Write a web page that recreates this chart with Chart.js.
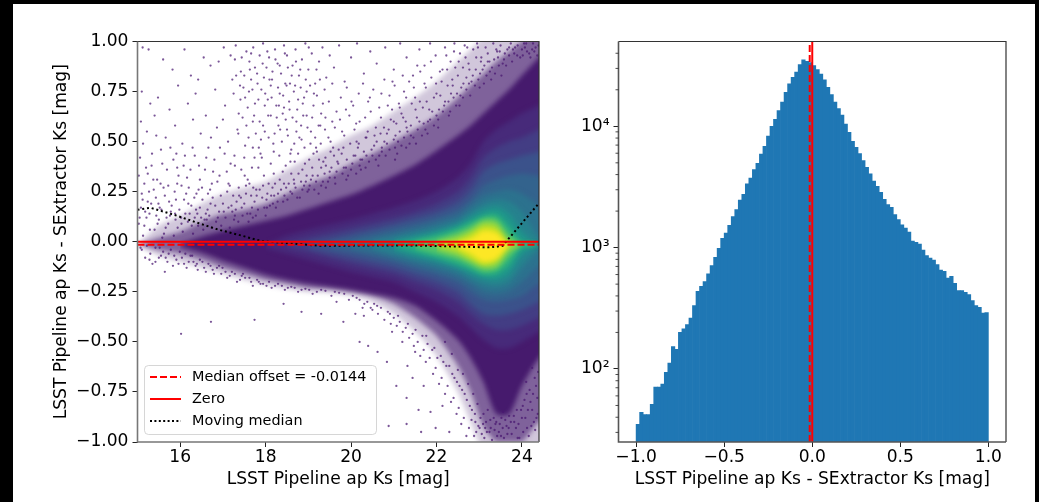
<!DOCTYPE html>
<html>
<head>
<meta charset="utf-8">
<script src="https://cdn.jsdelivr.net/npm/chart.js@4"></script>
<style>
html, body { margin: 0; padding: 0; background: #000; width: 1039px; height: 502px; overflow: hidden; }
#paper { position: absolute; left: 13px; top: 4px; width: 1022px; height: 498px; background: #fff; }
canvas { position: absolute; top: 0; }
#left { left: 0; }
#right { left: 570px; }
</style>
</head>
<body>
<div id="paper"></div>
<canvas id="left" width="570" height="502"></canvas>
<canvas id="right" width="469" height="502"></canvas>
<script>
var textFont = "'DejaVu Sans'";
var xTitle = "LSST Pipeline ap Ks [mag]";
var yTitle = "LSST Pipeline ap Ks - SExtractor Ks [mag]";
var legendLabels = ["Median offset = -0.0144", "Zero", "Moving median"];

// left panel ticks
var magTicks = [16, 18, 20, 22, 24];
var diffTicks = [-1, -0.75, -0.5, -0.25, 0, 0.25, 0.5, 0.75, 1];

// magnitude columns the density contours were read at, last one sits past the axis end
var magCols = [15, 15.5, 16, 16.5, 17, 17.5, 18, 18.5, 19, 19.5, 20, 20.5, 21, 21.5, 22, 22.5, 22.8, 23.1, 23.4, 23.7, 24, 24.4, 24.8];

// contours, upper and lower edge, columns count from the right end
var outerUp = [-0.015, 0.08, 0.13, 0.19, 0.24, 0.27, 0.3, 0.36, 0.42, 0.47, 0.53, 0.58, 0.65, 0.72, 0.8, 0.9, 0.96, 1.02, 1.05, 1.1, 1.1, 1.1, 1.1];
var outerLo = [-0.015, -0.07, -0.1, -0.13, -0.16, -0.19, -0.215, -0.235, -0.25, -0.255, -0.27, -0.3, -0.36, -0.45, -0.57, -0.75, -0.9, -1.05, -1.1, -1.1, -1.1, -1.1, -1.1];
var hazeUp = [-0.015, 0.02, 0.05, 0.1, 0.14, 0.16, 0.19, 0.24, 0.29, 0.33, 0.39, 0.44, 0.5, 0.56, 0.63, 0.72, 0.78, 0.84, 0.9, 0.95, 1, 1.05, 1.1];
var hazeLo = [-0.015, -0.04, -0.06, -0.09, -0.13, -0.16, -0.19, -0.21, -0.23, -0.235, -0.25, -0.27, -0.31, -0.38, -0.47, -0.62, -0.75, -0.92, -1, -1, -1, -0.9, -0.85];
var solidUp = [-0.01, 0.025, 0.055, 0.08, 0.105, 0.13, 0.165, 0.2, 0.235, 0.28, 0.33, 0.385, 0.455, 0.53, 0.58, 0.64, 0.7, 0.76, 0.83, 0.92, 1];
var solidLo = [-0.025, -0.055, -0.095, -0.13, -0.165, -0.19, -0.21, -0.225, -0.24, -0.26, -0.28, -0.32, -0.395, -0.49, -0.58, -0.7, -0.86, -0.86, -0.72, -0.58, -0.5];
var c1Up = [-0.015, 0.03, 0.06, 0.085, 0.11, 0.14, 0.17, 0.205, 0.25, 0.32, 0.39, 0.5, 0.56, 0.6, 0.64, 0.68, 0.72];
var c1Lo = [-0.03, -0.06, -0.09, -0.12, -0.15, -0.175, -0.2, -0.25, -0.3, -0.37, -0.43, -0.49, -0.53, -0.53, -0.5, -0.45, -0.4];
var c2Up = [-0.005, 0.02, 0.045, 0.07, 0.095, 0.12, 0.15, 0.19, 0.25, 0.32, 0.42, 0.47, 0.5, 0.52, 0.56, 0.6];
var c2Lo = [-0.025, -0.05, -0.08, -0.11, -0.135, -0.16, -0.2, -0.24, -0.3, -0.36, -0.41, -0.44, -0.44, -0.42, -0.38, -0.34];
var c3Up = [-0.005, 0.015, 0.04, 0.065, 0.09, 0.12, 0.15, 0.2, 0.26, 0.35, 0.39, 0.41, 0.43, 0.45, 0.47];
var c3Lo = [-0.03, -0.055, -0.08, -0.105, -0.13, -0.165, -0.2, -0.25, -0.31, -0.36, -0.37, -0.36, -0.34, -0.3, -0.26];
var c4Up = [-0.005, 0.015, 0.04, 0.065, 0.09, 0.12, 0.16, 0.21, 0.28, 0.31, 0.33, 0.34, 0.33, 0.32];
var c4Lo = [-0.03, -0.05, -0.075, -0.1, -0.135, -0.165, -0.205, -0.25, -0.29, -0.3, -0.29, -0.27, -0.21, -0.18];
var c5Up = [-0.005, 0.015, 0.04, 0.065, 0.095, 0.13, 0.18, 0.23, 0.25, 0.26, 0.24, 0.18, 0.1];
var c5Lo = [-0.03, -0.05, -0.08, -0.11, -0.14, -0.175, -0.21, -0.25, -0.26, -0.245, -0.2, -0.12, -0.08];
var c6Up = [0, 0.02, 0.045, 0.07, 0.105, 0.15, 0.19, 0.21, 0.2, 0.15, 0.02, -0.015];
var c6Lo = [-0.03, -0.06, -0.09, -0.115, -0.15, -0.185, -0.215, -0.225, -0.205, -0.13, -0.04, -0.015];
var c7Up = [0.005, 0.025, 0.05, 0.085, 0.125, 0.16, 0.175, 0.14, 0.05, -0.015, -0.015];
var c7Lo = [-0.04, -0.07, -0.095, -0.13, -0.16, -0.185, -0.195, -0.165, -0.07, -0.015, -0.015];
var c8Up = [-0.015, 0.01, 0.035, 0.07, 0.1, 0.13, 0.14, 0.08, 0, -0.015, -0.015];
var c8Lo = [-0.018, -0.05, -0.08, -0.115, -0.14, -0.165, -0.165, -0.12, -0.03, -0.015, -0.015];
var c9Up = [-0.005, 0.015, 0.05, 0.08, 0.115, 0.115, 0.04, -0.015, -0.015, -0.015];
var c9Lo = [-0.03, -0.06, -0.09, -0.12, -0.15, -0.14, -0.08, -0.015, -0.015, -0.015];
var c10Up = [0, 0.03, 0.06, 0.1, 0.095, 0.01, -0.015, -0.015, -0.015];
var c10Lo = [-0.04, -0.07, -0.1, -0.13, -0.125, -0.05, -0.015, -0.015, -0.015];
var c11Up = [-0.015, 0.01, 0.04, 0.08, 0.07, -0.015, -0.015, -0.015, -0.015];
var c11Lo = [-0.018, -0.05, -0.085, -0.115, -0.1, -0.02, -0.015, -0.015, -0.015];
var c12Up = [-0.005, 0.015, 0.055, 0.045, -0.015, -0.015, -0.015, -0.015];
var c12Lo = [-0.03, -0.06, -0.1, -0.085, -0.02, -0.015, -0.015, -0.015];

// single sources outside the dense part
var dotsTop = [[15.12,0.97],[15.26,0.96],[15.6,0.91],[15.82,0.86],[16.1,0.96],[16.25,0.83],[16.42,0.81],[16.55,0.92],[16.71,0.88],[16.9,0.9],[17.02,0.97],[17.18,0.93],[17.3,0.98],[17.42,0.85],[17.55,0.95],[17.62,0.9],[17.71,0.97],[17.8,0.84],[17.86,0.93],[17.94,0.99],[18.02,0.87],[18.08,0.92],[18.15,0.81],[18.22,0.96],[18.28,0.89],[18.36,0.84],[18.43,0.98],[18.5,0.93],[18.57,0.79],[18.63,0.88],[18.7,0.96],[18.78,0.83],[18.85,0.91],[18.93,0.99],[19,0.86],[19.08,0.94],[19.16,0.79],[19.25,0.9],[19.33,0.97],[19.42,0.82],[19.5,0.93],[19.6,0.87],[19.72,0.98],[19.85,0.8],[20,0.92],[20.14,0.99],[20.3,0.84],[20.45,0.95],[20.6,0.89],[20.8,0.97],[21,0.86],[21.15,0.99],[21.3,0.92],[21.45,0.83],[21.6,0.96],[21.72,0.88],[21.85,0.99],[21.98,0.93],[22.08,0.85],[22.2,0.97],[22.33,0.9],[22.42,0.99],[22.55,0.94],[22.66,0.98],[22.75,0.89],[22.86,0.96],[22.95,0.99],[23.05,0.92],[23.15,0.97],[23.24,0.9],[23.33,0.99],[23.42,0.95],[23.5,0.98],[23.58,0.91],[23.66,0.96],[23.74,0.99],[23.82,0.94],[23.9,0.98],[24,0.96],[24.1,0.99],[24.2,0.92],[24.32,0.97],[17.4,0.78],[17.52,0.72],[17.66,0.81],[17.75,0.69],[17.9,0.76],[18.05,0.71],[18.12,0.78],[18.25,0.68],[18.33,0.74],[18.46,0.79],[18.55,0.7],[18.66,0.75],[18.74,0.66],[18.82,0.77],[18.9,0.72],[19.04,0.78],[19.12,0.68],[19.2,0.73],[19.3,0.64],[19.38,0.76],[19.48,0.7],[19.56,0.79],[19.66,0.65],[19.76,0.72],[19.9,0.77],[20.05,0.68],[20.18,0.74],[20.28,0.79],[20.4,0.7],[20.52,0.76],[20.66,0.67],[20.78,0.81],[20.9,0.73],[21.02,0.78],[21.12,0.69],[21.24,0.75],[21.36,0.8],[21.5,0.72],[21.62,0.85],[21.75,0.77],[21.88,0.82],[22,0.74],[22.12,0.8],[22.25,0.86],[22.38,0.78],[22.5,0.83],[22.62,0.87],[15.1,0.75],[15.3,0.69],[15.48,0.72],[15.75,0.66],[15.95,0.78],[16.18,0.69],[16.36,0.74],[16.6,0.63],[16.82,0.76],[17.05,0.68],[17.25,0.74],[15.08,0.6],[15.22,0.55],[15.4,0.63],[15.66,0.52],[15.88,0.58],[16.05,0.49],[16.3,0.61],[16.48,0.54],[16.66,0.47],[16.86,0.57],[17,0.61],[17.12,0.5],[17.34,0.56],[17.46,0.62],[17.6,0.52],[17.7,0.6],[17.84,0.47],[17.98,0.55],[18.06,0.63],[18.18,0.49],[18.3,0.58],[18.4,0.64],[18.52,0.53],[18.6,0.46],[18.72,0.6],[18.84,0.51],[18.96,0.63],[19.06,0.55],[19.18,0.47],[19.28,0.58],[19.4,0.62],[19.52,0.5],[19.62,0.57],[19.74,0.61],[19.84,0.53],[19.96,0.63],[20.08,0.56],[20.2,0.6],[20.34,0.52],[20.46,0.65],[20.58,0.57],[20.7,0.62],[20.84,0.54],[20.96,0.66],[21.06,0.59],[21.18,0.64],[21.3,0.57],[21.42,0.69],[21.54,0.62],[21.68,0.67],[21.8,0.6],[21.94,0.72],[22.06,0.66],[22.2,0.7],[22.34,0.74],[22.46,0.68],[22.58,0.77],[22.7,0.82],[22.82,0.8],[22.92,0.86],[23.02,0.84],[23.12,0.88],[23.25,0.85],[23.35,0.91],[23.46,0.88],[23.6,0.94]];
var dotsMid = [[15.06,0.42],[15.2,0.37],[15.34,0.44],[15.46,0.31],[15.58,0.39],[15.72,0.28],[15.84,0.41],[15.96,0.33],[16.08,0.38],[16.2,0.27],[16.34,0.43],[16.46,0.31],[16.58,0.36],[16.7,0.26],[16.8,0.41],[16.92,0.33],[17.04,0.44],[17.16,0.28],[17.28,0.38],[17.38,0.23],[17.5,0.42],[17.58,0.31],[17.68,0.37],[17.78,0.26],[17.88,0.44],[17.96,0.33],[18.04,0.24],[18.12,0.39],[18.22,0.29],[18.32,0.43],[18.4,0.35],[18.48,0.27],[18.58,0.4],[18.66,0.31],[18.76,0.44],[18.86,0.36],[18.94,0.3],[19.02,0.41],[19.1,0.33],[19.2,0.45],[19.3,0.37],[19.4,0.42],[19.5,0.35],[19.58,0.47],[19.68,0.4],[19.78,0.44],[19.88,0.37],[19.98,0.49],[20.06,0.43],[20.16,0.47],[20.26,0.41],[20.36,0.52],[20.48,0.46],[20.6,0.5],[20.72,0.45],[20.88,0.56],[21,0.51],[21.14,0.55],[21.28,0.6],[21.4,0.58],[15.1,0.24],[15.24,0.2],[15.38,0.26],[15.52,0.17],[15.64,0.23],[15.78,0.15],[15.9,0.21],[16.02,0.12],[16.14,0.24],[16.26,0.18],[16.4,0.14],[16.52,0.21],[16.64,0.16],[16.76,0.22],[16.88,0.12],[17,0.19],[17.1,0.25],[17.22,0.15],[17.32,0.2],[17.44,0.17],[17.54,0.24],[17.64,0.14],[17.74,0.2],[17.82,0.16],[17.92,0.22],[18,0.13],[18.1,0.18],[18.2,0.23],[15.05,0.12],[15.16,0.08],[15.28,0.14],[15.4,0.06],[15.5,0.11],[15.62,0.04],[15.72,0.09],[15.85,0.03],[15.94,0.07],[16.06,0.05],[16.18,0.1],[16.3,0.04],[16.42,0.08],[16.54,0.06],[16.62,0.11],[16.74,0.07],[16.84,0.1],[16.96,0.08],[17.06,0.12],[17.16,0.07],[17.26,0.11],[17.36,0.1],[17.46,0.13],[17.6,0.1],[17.7,0.12],[15.08,0.17],[15.18,0.15],[15.32,0.19],[15.44,0.13],[15.56,0.16],[15.68,0.12],[15.8,0.18],[15.98,0.16],[16.12,0.14],[16.34,0.12],[16.46,0.17],[16.68,0.13],[16.82,0.18],[17.02,0.15],[17.2,0.18],[17.42,0.22],[17.86,0.26],[18.02,0.21],[18.16,0.27],[18.28,0.2],[18.36,0.26],[18.44,0.23],[18.54,0.29],[18.62,0.24],[18.7,0.27],[18.8,0.22],[18.9,0.28],[18.98,0.25],[19.06,0.31],[19.14,0.26],[19.22,0.33],[19.3,0.28],[19.38,0.34],[19.46,0.3],[19.54,0.37],[19.62,0.32],[19.7,0.39],[19.8,0.34],[19.9,0.41],[20,0.36],[20.1,0.43],[20.2,0.38],[20.3,0.45],[20.42,0.4],[20.54,0.48],[20.66,0.43],[20.78,0.5],[20.9,0.46],[21.04,0.53],[21.18,0.48],[21.32,0.55],[21.46,0.52],[21.6,0.6],[21.74,0.56],[21.9,0.65],[22.04,0.61],[22.18,0.68],[22.32,0.65],[22.48,0.74],[22.62,0.72],[22.76,0.79],[22.9,0.78],[23.04,0.9],[23.2,0.94],[23.4,0.96],[23.7,0.97],[24.05,0.99],[24.26,0.99]];
var dotsLow = [[15.1,-0.04],[15.22,-0.02],[15.3,-0.06],[15.42,-0.03],[15.5,-0.08],[15.6,-0.05],[15.7,-0.1],[15.78,-0.04],[15.86,-0.07],[15.96,-0.11],[16.04,-0.08],[16.12,-0.06],[16.2,-0.1],[16.28,-0.07],[16.36,-0.12],[16.46,-0.09],[16.56,-0.13],[16.66,-0.11],[16.76,-0.14],[16.86,-0.13],[16.96,-0.16],[17.06,-0.15],[17.16,-0.17],[17.28,-0.16],[17.4,-0.19],[17.52,-0.18],[17.66,-0.2],[17.8,-0.19],[17.94,-0.21],[18.08,-0.2],[18.22,-0.22],[18.38,-0.22],[18.52,-0.23],[18.68,-0.23],[18.84,-0.24],[19.02,-0.24],[19.2,-0.25],[19.4,-0.245],[19.62,-0.25],[19.84,-0.26],[20.04,-0.27],[20.2,-0.29],[20.38,-0.3],[20.54,-0.31],[20.7,-0.33],[20.86,-0.35],[21,-0.38],[21.14,-0.4],[21.28,-0.43],[21.44,-0.46],[21.56,-0.5],[21.7,-0.54],[21.84,-0.58],[21.98,-0.63],[22.12,-0.68],[22.26,-0.72],[22.4,-0.78],[22.52,-0.83],[22.64,-0.88],[22.76,-0.93],[22.88,-0.97],[15.42,-0.1],[15.64,-0.15],[16.02,-0.46],[16.72,-0.4],[17.74,-0.39],[18.42,-0.31],[18.84,-0.35],[19.3,-0.36],[19.66,-0.3],[19.82,-0.4],[20.1,-0.36],[20.3,-0.37],[20.5,-0.34],[20.2,-0.5],[20.4,-0.52],[20.62,-0.55],[20.96,-0.45],[21.2,-0.5],[21.32,-0.62],[20.84,-0.6],[21.06,-0.72],[21.3,-0.78],[21.44,-0.68],[21.7,-0.72],[21.58,-0.84],[21.86,-0.85],[21.64,-0.95],[21.98,-0.93],[22.3,-0.95],[22.14,-0.82],[20.88,-0.92],[21.3,-0.91],[21.5,-0.55],[21.76,-0.47],[21.9,-0.54],[22.02,-0.58],[22.16,-0.6],[22.3,-0.62],[22.42,-0.68],[22.54,-0.72],[22.66,-0.76],[22.78,-0.82],[22.9,-0.86],[22.98,-0.92],[23.06,-0.96],[22.2,-0.5],[22.36,-0.56],[22.5,-0.64],[22.62,-0.66],[22.74,-0.71],[22.86,-0.76],[22.96,-0.81],[23.1,-0.86],[23.16,-0.9],[23.24,-0.95],[23.3,-0.99],[23.38,-0.91],[23.46,-0.95],[23.52,-0.88],[23.58,-0.98],[23.64,-0.92],[23.7,-0.87],[23.76,-0.96],[23.82,-0.9],[23.88,-0.84],[23.94,-0.98],[24,-0.88],[24.06,-0.79],[24.12,-0.93],[24.18,-0.74],[24.24,-0.84],[24.3,-0.68],[24.36,-0.78],[24.1,-0.7],[24.24,-0.63],[24.34,-0.88],[24.16,-0.97],[23.42,-0.97],[23.34,-0.88],[23.2,-0.84],[23.12,-0.98]];
var dotsCluster = [[17.31,0.83],[18.47,0.61],[17.93,0.89],[18.79,0.52],[17.58,0.67],[18.23,0.91],[19.13,0.74],[17.77,0.54],[18.61,0.83],[17.44,0.92],[18.87,0.69],[17.69,0.76],[18.34,0.56],[19.01,0.97],[18.12,0.63],[17.83,0.71],[18.71,0.9],[17.52,0.48],[18.41,0.73],[19.24,0.58],[17.96,0.82],[18.56,0.66],[17.37,0.64],[18.94,0.81],[18.19,0.45],[17.63,0.86],[18.83,0.58],[17.89,0.51],[18.29,0.77],[19.09,0.62],[17.48,0.77],[18.67,0.49],[18.04,0.95],[17.73,0.63],[18.52,0.87],[19.19,0.86],[17.98,0.68],[18.38,0.5],[18.76,0.71],[17.28,0.91],[18.16,0.85],[17.55,0.58],[18.91,0.47],[18.45,0.94],[17.81,0.79],[19.34,0.69],[18.07,0.52],[18.63,0.62],[17.66,0.94],[18.98,0.57],[18.26,0.62],[17.41,0.71],[18.81,0.86],[17.91,0.42],[18.49,0.78],[19.27,0.81],[17.61,0.75],[18.14,0.72],[18.72,0.55],[17.86,0.6],[19.05,0.49],[18.33,0.88],[17.5,0.83],[18.58,0.44],[17.75,0.87],[18.96,0.75],[18.21,0.54],[19.16,0.52],[17.99,0.74],[18.43,0.67],[17.36,0.54],[18.88,0.63],[18.09,0.81],[17.7,0.47],[18.69,0.78],[19.39,0.56],[17.94,0.58],[18.5,0.56],[17.22,0.81],[18.31,0.68],[15.37,0.31],[16.44,0.38],[15.13,0.49],[16.93,0.47],[15.91,0.44],[16.16,0.32],[15.55,0.46],[17.09,0.35],[16.72,0.52],[15.24,0.34],[16.29,0.47],[15.69,0.36],[17.27,0.43],[16.03,0.28],[15.44,0.53],[16.61,0.42],[15.87,0.25],[16.87,0.3],[15.16,0.29],[17.43,0.36],[16.38,0.24],[15.61,0.27],[17.18,0.39],[16.11,0.43],[15.77,0.47],[16.77,0.35],[15.33,0.38],[17.62,0.29],[16.51,0.27],[15.93,0.37],[17.74,0.42],[15.03,0.33],[16.24,0.36],[17.51,0.33],[17.83,0.37],[18.19,0.34],[18.47,0.38],[18.77,0.34],[19.09,0.37],[19.35,0.4],[19.6,0.43],[17.66,0.23],[18.07,0.29],[18.33,0.31],[18.6,0.34],[18.92,0.39],[19.25,0.41],[19.52,0.45],[19.82,0.47],[20.13,0.5],[20.39,0.55],[20.69,0.54],[21,0.6],[21.22,0.62],[21.51,0.66],[21.77,0.7],[21.99,0.79],[22.26,0.78],[22.44,0.87],[22.68,0.92],[15.13,0.03],[15.29,0.06],[15.47,0.09],[15.58,0.02],[15.76,0.13],[15.89,0.11],[16.03,0.09],[16.22,0.14],[16.37,0.16],[16.49,0.12],[16.6,0.14],[16.71,0.19],[16.91,0.15],[17.13,0.17],[17.3,0.16],[17.5,0.19],[17.68,0.17],[17.79,0.23],[17.97,0.17],[18.13,0.23],[18.24,0.17],[18.41,0.2],[18.58,0.25],[18.74,0.22],[18.86,0.26],[19.03,0.28],[19.18,0.3],[19.34,0.3],[19.5,0.32],[19.66,0.35],[19.83,0.37],[20.03,0.39],[20.22,0.41],[20.36,0.43],[20.5,0.43],[20.72,0.47],[20.84,0.49],[21.1,0.5],[21.24,0.52],[21.4,0.53],[21.56,0.56],[21.7,0.59],[21.85,0.61],[22,0.63],[22.15,0.65],[22.28,0.7],[22.4,0.72],[22.56,0.73],[22.7,0.76],[22.85,0.83],[22.98,0.81],[23.08,0.86],[23.2,0.9],[23.3,0.87],[23.44,0.92],[23.55,0.89],[23.7,0.93],[23.84,0.97],[23.96,0.92],[24.12,0.95],[24.24,0.96],[24.36,0.93],[15.18,-0.08],[15.35,-0.11],[15.52,-0.03],[15.66,-0.08],[15.83,-0.12],[15.99,-0.05],[16.15,-0.13],[16.31,-0.1],[16.41,-0.14],[16.6,-0.15],[16.79,-0.16],[16.91,-0.12],[17.1,-0.18],[17.33,-0.2],[17.47,-0.16],[17.7,-0.22],[17.88,-0.21],[18.14,-0.23],[18.45,-0.24],[18.76,-0.25],[19.1,-0.26],[19.54,-0.27],[19.95,-0.29],[20.27,-0.33],[20.46,-0.33],[20.63,-0.36],[20.78,-0.39],[20.93,-0.41],[21.07,-0.42],[21.21,-0.45],[21.36,-0.48],[21.47,-0.52],[21.62,-0.57],[21.75,-0.6],[21.92,-0.66],[22.06,-0.71],[22.2,-0.76],[22.34,-0.8],[22.47,-0.86],[22.58,-0.91],[22.7,-0.97],[22.82,-0.89],[22.93,-0.95],[23.03,-0.88],[23.14,-0.93],[23.26,-0.89],[23.36,-0.94],[23.48,-0.91],[23.56,-0.85],[23.66,-0.96],[23.74,-0.9],[23.86,-0.93],[23.98,-0.84],[24.08,-0.88],[24.2,-0.8],[24.28,-0.9],[24.33,-0.72],[24.38,-0.65]];
var dotsFringe = [[19.93,0.33],[20.77,0.57],[21.37,0.49],[20.23,0.36],[19.41,0.38],[21.83,0.66],[22.37,0.81],[20.55,0.53],[21.08,0.44],[19.71,0.46],[22.09,0.73],[20.93,0.61],[21.61,0.7],[22.52,0.9],[20.12,0.59],[19.47,0.52],[21.29,0.72],[22.77,0.86],[20.64,0.38],[21.94,0.58],[19.12,0.44],[20.33,0.62],[22.23,0.93],[21.47,0.77],[19.79,0.55],[20.86,0.68],[22.63,0.79],[21.14,0.67],[18.68,0.4],[21.72,0.79],[20.44,0.72],[22.93,0.92],[19.56,0.6],[21.03,0.47],[22.14,0.86],[20.01,0.7],[21.55,0.88],[18.43,0.29],[20.71,0.74],[22.41,0.95],[19.29,0.49],[21.21,0.83],[21.87,0.9],[20.18,0.49],[18.96,0.33],[22.72,0.97],[19.88,0.66],[20.97,0.8],[21.66,0.53],[22.97,0.97],[23.11,0.79],[23.28,0.81],[23.17,0.83],[23.37,0.84],[23.52,0.83],[23.63,0.88],[23.77,0.9],[23.89,0.93],[24.02,0.93],[24.17,0.94],[24.29,0.95],[24.39,0.98],[23.48,0.95],[23.79,0.96],[24.07,0.97],[15.43,0.22],[16.57,0.11],[15.03,0.09],[16.19,0.19],[15.74,0.2],[16.95,0.23],[15.27,0.25],[16.33,0.22],[17.24,0.23],[15.88,0.14],[16.74,0.29],[15.49,0.19],[17.54,0.28],[16.09,0.21],[15.12,0.21],[16.43,0.26],[17.37,0.27],[15.66,0.07],[16.65,0.24],[17.13,0.29],[15.21,0.12],[15.93,0.29],[17.71,0.27],[16.27,0.08],[15.54,0.29],[17.94,0.28],[18.17,0.19],[17.28,0.13],[17.57,0.14],[17.77,0.13],[18.03,0.17],[18.29,0.24],[18.51,0.21],[18.67,0.29],[18.83,0.3],[19.01,0.26],[19.24,0.24],[19.41,0.27],[19.63,0.29],[19.89,0.31],[20.12,0.34],[20.34,0.37],[20.58,0.41],[20.81,0.43],[21.03,0.41],[21.29,0.47],[21.52,0.49],[21.79,0.54],[22.04,0.57],[22.29,0.63],[22.54,0.68],[22.79,0.73],[23.01,0.77],[15.07,-0.03],[15.28,-0.09],[15.55,-0.07],[15.73,-0.06],[15.91,-0.09],[16.09,-0.11],[16.24,-0.07],[16.39,-0.11],[16.52,-0.1],[16.71,-0.12],[16.99,-0.13],[17.21,-0.15],[17.44,-0.17],[17.62,-0.18],[17.84,-0.2],[18.02,-0.22],[18.29,-0.21],[18.6,-0.225],[18.93,-0.235],[19.3,-0.24],[19.72,-0.255],[20.13,-0.28],[20.31,-0.31],[20.61,-0.32],[20.91,-0.36],[21.1,-0.37],[21.33,-0.41],[21.51,-0.44],[21.67,-0.47],[21.79,-0.51],[21.95,-0.53],[22.1,-0.57],[22.23,-0.62],[22.37,-0.66],[22.48,-0.7],[22.6,-0.74],[22.71,-0.79],[22.83,-0.84],[22.91,-0.9],[23.01,-0.93],[23.09,-0.91],[23.18,-0.95],[23.27,-0.93],[23.4,-0.9],[23.55,-0.93],[23.69,-0.93],[23.81,-0.87],[23.92,-0.91],[24.03,-0.95],[24.14,-0.84],[24.26,-0.76],[24.37,-0.86],[24.31,-0.94],[24.22,-0.92],[24.02,-0.82],[24.11,-0.76],[23.9,-0.98],[23.61,-0.89],[23.51,-0.97]];

// moving median line
var medianMag = [15, 15.3, 15.85, 16.4, 16.9, 17.45, 17.9, 18.7, 19.25, 19.7, 20.5, 21.5, 22.5, 23.2, 23.4, 23.55, 23.7, 24.37];
var medianDiff = [0.16, 0.17, 0.135, 0.095, 0.06, 0.03, 0.003, -0.01, -0.02, -0.02, -0.018, -0.019, -0.024, -0.028, -0.025, -0.02, 0.018, 0.185];
var medianOffset = -0.0144;

// right panel, 100 bins of 0.02
var binCenters = [-0.99,-0.97,-0.95,-0.93,-0.91,-0.89,-0.87,-0.85,-0.83,-0.81,-0.79,-0.77,-0.75,-0.73,-0.71,-0.69,-0.67,-0.65,-0.63,-0.61,-0.59,-0.57,-0.55,-0.53,-0.51,-0.49,-0.47,-0.45,-0.43,-0.41,-0.39,-0.37,-0.35,-0.33,-0.31,-0.29,-0.27,-0.25,-0.23,-0.21,-0.19,-0.17,-0.15,-0.13,-0.11,-0.09,-0.07,-0.05,-0.03,-0.01,0.01,0.03,0.05,0.07,0.09,0.11,0.13,0.15,0.17,0.19,0.21,0.23,0.25,0.27,0.29,0.31,0.33,0.35,0.37,0.39,0.41,0.43,0.45,0.47,0.49,0.51,0.53,0.55,0.57,0.59,0.61,0.63,0.65,0.67,0.69,0.71,0.73,0.75,0.77,0.79,0.81,0.83,0.85,0.87,0.89,0.91,0.93,0.95,0.97,0.99];
var binCounts = [35,44,42,42,51,71,71,75,94,112,153,145,200,214,232,263,333,437,480,525,607,710,832,986,1193,1320,1527,1800,2055,2470,2750,3350,3750,4395,4955,5915,6840,8320,10000,11430,13460,15860,19060,22340,25350,28050,32220,35240,34360,33500,31620,29310,26980,24100,20990,18240,15860,13990,12390,10450,8930,7520,6710,5960,5210,4590,4050,3540,3200,2860,2500,2260,2150,1870,1700,1545,1450,1345,1135,1105,1070,955,860,822,791,724,654,638,562,580,508,442,442,428,410,366,333,322,289,291];
var histXTicks = [-1, -0.5, 0, 0.5, 1];
var histDecades = [100, 1000, 10000];
var decadeLabels = { 100: "10\u00b2", 1000: "10\u00b3", 10000: "10\u2074" };
var histMinorTicks = [30,40,50,60,70,80,90,200,300,400,500,600,700,800,900,2000,3000,4000,5000,6000,7000,8000,9000,20000,30000,40000];
var histYMin = 25, histYMax = 50000;

function setTicks(list) {
	return function(scale) { scale.ticks = list.map(function(v) { return { value: v }; }); };
}

function band(up, lo, color, order) {
	var cols = magCols.slice(magCols.length - up.length);
	var common = { showLine: true, pointRadius: 0, borderWidth: 1, borderColor: "transparent", tension: 0.25, order: order };
	return [
		Object.assign({}, common, { data: cols.map(function(x, i) { return { x: x, y: up[i] }; }), fill: "+1", backgroundColor: color }),
		Object.assign({}, common, { data: cols.map(function(x, i) { return { x: x, y: lo[i] }; }), fill: false })
	];
}

function dots(list, order) {
	return {
		data: list.map(function(p) { return { x: p[0], y: p[1] }; }),
		showLine: false, pointRadius: 1.15, pointBorderWidth: 0,
		pointBackgroundColor: "rgba(72,22,112,0.72)", order: order
	};
}

function frame(leftColor) {
	return {
		id: "frame",
		afterDraw: function(chart) {
			var a = chart.chartArea, c = chart.ctx;
			c.save();
			c.lineWidth = 1.2;
			c.strokeStyle = "#333";
			c.beginPath();
			c.moveTo(a.left, a.top); c.lineTo(a.right, a.top); c.lineTo(a.right, a.bottom);
			c.stroke();
			c.lineWidth = 1.6;
			c.strokeStyle = leftColor;
			c.beginPath();
			c.moveTo(a.left, a.top); c.lineTo(a.left, a.bottom); c.lineTo(a.right, a.bottom);
			c.stroke();
			c.restore();
		}
	};
}

var legendBox = {
	id: "legendBox",
	afterDraw: function(chart) {
		var c = chart.ctx;
		c.save();
		c.fillStyle = "rgba(255,255,255,0.8)";
		c.strokeStyle = "rgba(204,204,204,0.8)";
		c.lineWidth = 1;
		c.beginPath();
		c.roundRect(144.5, 365.5, 232, 69, 4);
		c.fill();
		c.stroke();
		var rows = [377, 399, 421];
		var dash = [[7, 3], [], [2, 2.4]];
		var colors = ["#ff0000", "#ff0000", "#000000"];
		rows.forEach(function(y, i) {
			c.strokeStyle = colors[i];
			c.lineWidth = 2;
			c.setLineDash(dash[i]);
			c.beginPath();
			c.moveTo(150, y);
			c.lineTo(181, y);
			c.stroke();
			c.setLineDash([]);
			c.fillStyle = "#000";
			c.font = "14.4px " + textFont;
			c.textBaseline = "middle";
			c.fillText(legendLabels[i], 192, y);
		});
		c.restore();
	}
};

// soft edges for the filled contours, filler runs first so the filter goes on in beforeDraw
var softBands = {
	id: "softBands",
	beforeDraw: function(chart) { chart.ctx.filter = "blur(2.5px)"; },
	beforeDatasetsDraw: function(chart) { chart.ctx.filter = "none"; }
};

var minorLogTicks = {
	id: "minorLogTicks",
	afterDraw: function(chart) {
		var s = chart.scales.y, c = chart.ctx, l = chart.chartArea.left;
		c.save();
		c.strokeStyle = "#222";
		c.lineWidth = 0.8;
		histMinorTicks.forEach(function(v) {
			var y = s.getPixelForValue(v);
			c.beginPath();
			c.moveTo(l, y);
			c.lineTo(l - 3, y);
			c.stroke();
		});
		c.restore();
	}
};

var leftSets = [].concat(
	band(outerUp, outerLo, "rgba(72,30,112,0.25)", 101),
	band(hazeUp, hazeLo, "rgba(72,30,112,0.6)", 100),
	[dots(dotsTop, 90), dots(dotsMid, 90), dots(dotsLow, 90), dots(dotsCluster, 90), dots(dotsFringe, 90)],
	band(solidUp, solidLo, "#461a6d", 80),
	band(c1Up, c1Lo, "#472a7a", 79),
	band(c2Up, c2Lo, "#433d84", 78),
	band(c3Up, c3Lo, "#3b528b", 77),
	band(c4Up, c4Lo, "#33638d", 76),
	band(c5Up, c5Lo, "#2c728e", 75),
	band(c6Up, c6Lo, "#26828e", 74),
	band(c7Up, c7Lo, "#1f958b", 73),
	band(c8Up, c8Lo, "#29af7f", 72),
	band(c9Up, c9Lo, "#55c667", 71),
	band(c10Up, c10Lo, "#8bd646", 70),
	band(c11Up, c11Lo, "#c5e021", 69),
	band(c12Up, c12Lo, "#fde725", 68),
	[
		{ data: medianMag.map(function(x, i) { return { x: x, y: medianDiff[i] }; }), showLine: true, pointRadius: 0, borderColor: "#000", borderWidth: 2, borderDash: [2, 2.8], order: 3 },
		{ data: [{ x: 15, y: medianOffset }, { x: 24.4, y: medianOffset }], showLine: true, pointRadius: 0, borderColor: "#ff0000", borderWidth: 2, borderDash: [7, 3], order: 2 },
		{ data: [{ x: 15, y: 0 }, { x: 24.4, y: 0 }], showLine: true, pointRadius: 0, borderColor: "#ff0000", borderWidth: 2, order: 1 }
	]
);

new Chart(document.getElementById("left"), {
	type: "scatter",
	data: { datasets: leftSets },
	options: {
		responsive: false,
		animation: false,
		devicePixelRatio: 1,
		layout: { padding: { left: 0, top: 41.5, right: 31, bottom: 0 } },
		plugins: { legend: { display: false }, tooltip: { enabled: false }, filler: { drawTime: "beforeDatasetsDraw" } },
		scales: {
			x: {
				type: "linear", min: 15, max: 24.4,
				afterBuildTicks: setTicks(magTicks),
				afterFit: function(s) { s.height = 60; },
				grid: { z: 1, drawOnChartArea: false, tickLength: 5, tickColor: "#222", tickWidth: 1 },
				border: { display: false, z: 1 },
				ticks: { z: 1, color: "#000", maxRotation: 0, autoSkip: false, padding: 0.5, font: { family: textFont, size: 17.1 }, callback: function(v) { return String(v); } },
				title: { display: true, text: xTitle, color: "#000", font: { family: textFont, size: 17.1 }, padding: { top: 0, bottom: 11.7 } }
			},
			y: {
				type: "linear", min: -1, max: 1,
				afterBuildTicks: setTicks(diffTicks),
				afterFit: function(s) { s.width = 137.5; },
				grid: { z: 1, drawOnChartArea: false, tickLength: 5, tickColor: "#222", tickWidth: 1 },
				border: { display: false, z: 1 },
				ticks: { z: 1, color: "#000", autoSkip: false, padding: 4, font: { family: textFont, size: 17.1 }, callback: function(v) { return v.toFixed(2).replace("-", "\u2212"); } },
				title: { display: true, text: yTitle, color: "#000", font: { family: textFont, size: 17.1 }, padding: { top: 51, bottom: 0 } }
			}
		}
	},
	plugins: [softBands, frame("#777"), legendBox]
});

new Chart(document.getElementById("right"), {
	type: "bar",
	data: {
		datasets: [
			{ type: "line", data: [{ x: 0, y: histYMin }, { x: 0, y: histYMax }], borderColor: "#ff0000", borderWidth: 2, pointRadius: 0, order: 1 },
			{ type: "line", data: [{ x: medianOffset, y: histYMin }, { x: medianOffset, y: histYMax }], borderColor: "#ff0000", borderWidth: 2, borderDash: [7, 3], pointRadius: 0, order: 2 },
			{ data: binCenters.map(function(x, i) { return { x: x, y: binCounts[i] }; }), backgroundColor: "#1f77b4", barPercentage: 1, categoryPercentage: 1, borderWidth: 0, order: 3 }
		]
	},
	options: {
		responsive: false,
		animation: false,
		devicePixelRatio: 1,
		layout: { padding: { left: 0, top: 41.5, right: 33, bottom: 0 } },
		plugins: { legend: { display: false }, tooltip: { enabled: false } },
		scales: {
			x: {
				type: "linear", min: -1.1, max: 1.1, offset: false,
				afterBuildTicks: setTicks(histXTicks),
				afterFit: function(s) { s.height = 60; },
				grid: { offset: false, drawOnChartArea: false, tickLength: 5, tickColor: "#222", tickWidth: 1 },
				border: { display: false },
				ticks: { color: "#000", maxRotation: 0, autoSkip: false, padding: 0.5, font: { family: textFont, size: 17.1 }, callback: function(v) { return v.toFixed(1).replace("-", "\u2212"); } },
				title: { display: true, text: yTitle, color: "#000", font: { family: textFont, size: 17.1 }, padding: { top: 0, bottom: 11.7 } }
			},
			y: {
				type: "logarithmic", min: histYMin, max: histYMax,
				afterBuildTicks: setTicks(histDecades),
				afterFit: function(s) { s.width = 48.5; },
				grid: { drawOnChartArea: false, tickLength: 5, tickColor: "#222", tickWidth: 1 },
				border: { display: false },
				ticks: { color: "#000", autoSkip: false, padding: 4, font: { family: textFont, size: 17.1 }, callback: function(v) { return decadeLabels[v]; } }
			}
		}
	},
	plugins: [frame("#555"), minorLogTicks]
});
</script>
</body>
</html>
